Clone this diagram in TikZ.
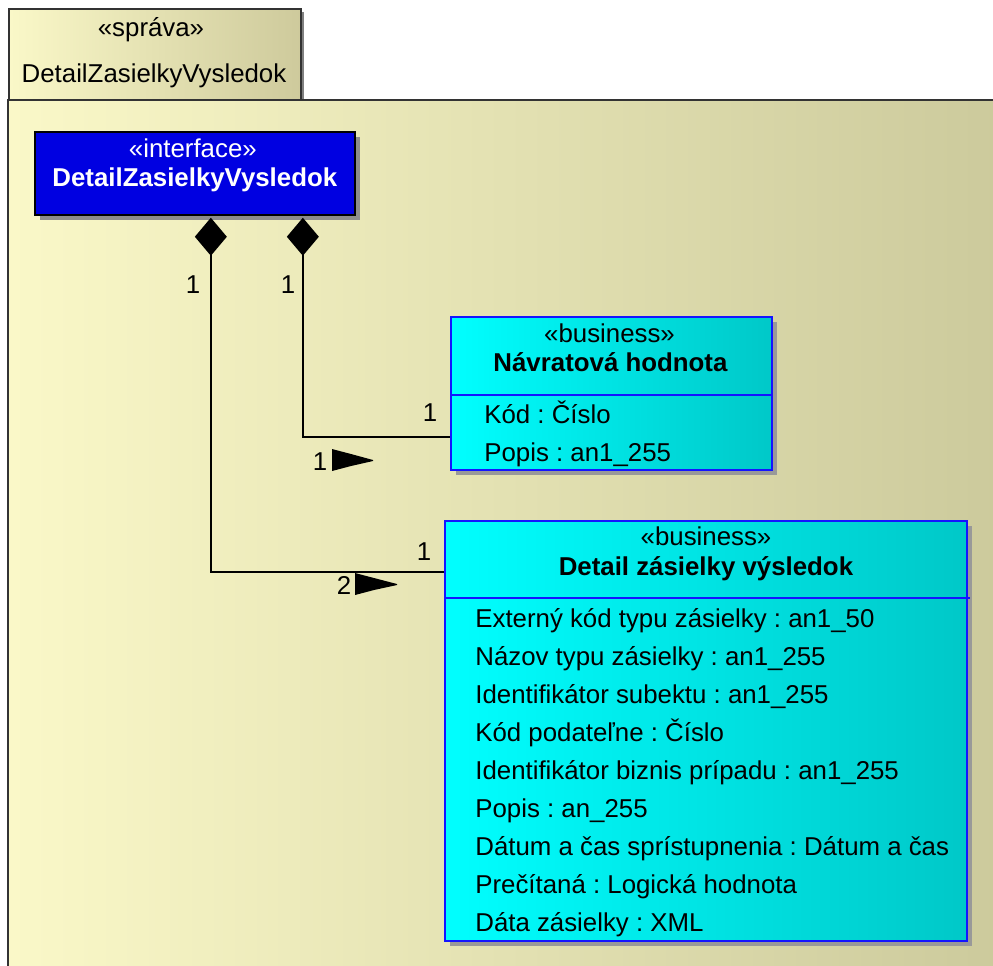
\documentclass[tikz,border=0pt]{standalone}
\usepackage{fontspec}
\setmainfont{Liberation Sans}
\usetikzlibrary{arrows.meta, positioning, calc, shadows}
\frenchspacing
\definecolor{pkgleft}{RGB}{250,248,200}
\definecolor{pkgright}{RGB}{204,202,156}
\definecolor{tabright}{RGB}{206,202,156}
\definecolor{cyanleft}{RGB}{0,255,255}
\definecolor{cyanright}{RGB}{0,200,200}
\definecolor{ifaceblue}{RGB}{0,0,225}
\definecolor{edgeblue}{RGB}{20,20,255}

\begin{document}
\begin{tikzpicture}[
    x=0.02cm, y=-0.02cm,
    font=\fontsize{14.7}{17}\selectfont,
    pkgtab/.style={draw=black!80, line width=1.2pt, left color=pkgleft, right color=tabright, anchor=north west, inner sep=0, minimum width=5.84cm, minimum height=1.84cm, drop shadow={shadow xshift=0.06cm, shadow yshift=-0.06cm, fill=black!50, opacity=1}},
    pkgbody/.style={left color=pkgleft, right color=pkgright, anchor=north west, inner sep=0, minimum width=19.84cm, minimum height=17.5cm},
    pkgline/.style={draw=black!80, line width=1.2pt},
    iface/.style={draw=black, line width=1pt, fill=ifaceblue, anchor=north west, inner sep=0, minimum width=6.4cm, minimum height=1.66cm, drop shadow={shadow xshift=0.1cm, shadow yshift=-0.1cm, fill=black!45, opacity=1}},
    cls/.style={draw=edgeblue, line width=1.2pt, left color=cyanleft, right color=cyanright, anchor=north west, inner sep=0, drop shadow={shadow xshift=0.1cm, shadow yshift=-0.1cm, fill=black!40, opacity=1}},
    divider/.style={draw=edgeblue, line width=1.2pt},
    lbl/.style={inner sep=0, anchor=base},
    attr/.style={inner sep=0, anchor=base west},
    mult/.style={inner sep=0},
    comp/.style={{Diamond[length=0.76cm, width=0.64cm]}-, line width=1.1pt},
    navtip/.style={fill=black},
]

% --- page and package frame ---
\path[use as bounding box] (0,0) rectangle (993,965);
\clip (0,0) rectangle (993,965);
\node[pkgtab] (pkgTab) at (8,8) {};
\node[lbl] (pkgStereo) at (151,36) {«správa»};
\node[lbl] (pkgName) at (154,82) {DetailZasielkyVysledok};
\node[pkgbody] (pkgBody) at (8,100) {};
\draw[pkgline] (pkgBody.south west) -- (pkgBody.north west) -- (pkgBody.north east);

% --- interface ---
\node[iface] (iface) at (34,131) {};
\node[lbl, white] (ifaceStereo) at ($(iface.north)+(-2,26)$) {«interface»};
\node[lbl, white] (ifaceName) at ($(iface.north)+(0,55)$) {\textbf{DetailZasielkyVysledok}};

% --- class: Navratova hodnota ---
\node[cls, minimum width=6.42cm, minimum height=3.06cm] (navrat) at (450,316) {};
\node[lbl] (navratStereo) at ($(navrat.north)+(-2,26)$) {«business»};
\node[lbl] (navratName) at ($(navrat.north)+(-1,55)$) {\textbf{Návratová hodnota}};
\draw[divider] ($(navrat.north west)+(0,79)$) -- ($(navrat.north east)+(0,79)$);
\node[attr] (navrat-1) at ($(navrat.north west)+(34,107)$) {Kód : Číslo};
\node[attr] (navrat-2) at ($(navrat.north west)+(34,145)$) {Popis : an1\_255};

% --- class: Detail zasielky vysledok ---
\node[cls, minimum width=10.44cm, minimum height=8.4cm] (detail) at (444,520) {};
\node[lbl] (detailStereo) at ($(detail.north)+(0,25)$) {«business»};
\node[lbl] (detailName) at ($(detail.north)+(0,55)$) {\textbf{Detail zásielky výsledok}};
\draw[divider] ($(detail.north west)+(0,78)$) -- ($(detail.north east)+(2,78)$);
\foreach \txt [count=\i] in {Externý kód typu zásielky : an1\_50, Názov typu zásielky : an1\_255,
    Identifikátor subektu : an1\_255, Kód podateľne : Číslo, Identifikátor biznis prípadu : an1\_255,
    Popis : an\_255, Dátum a čas sprístupnenia : Dátum a čas, Prečítaná : Logická hodnota,
    Dáta zásielky : XML}
  \node[attr] (detail-\i) at ($(detail.north west)+(31,{69+38*\i})$) {\txt};

% --- compositions ---
\draw[comp] ($(iface.south)+(108,2)$) |- ($(navrat.south west)+(0,-34)$);
\draw[comp] ($(iface.south)+(16,2)$) |- ($(detail.north west)+(0,52)$);

% navigability marks
\fill[navtip] (332,449) -- (351,454) -- (373,460) -- (373,461) -- (351,466) -- (332,471) -- cycle;
\fill[navtip] (355,573) -- (374,578) -- (397,584) -- (397,585) -- (374,590) -- (355,595) -- cycle;

% multiplicities
\node[mult] (multA1) at (193,285) {1};
\node[mult] (multB1) at (288,285) {1};
\node[mult] (multB2) at (430,413) {1};
\node[mult] (multB3) at (320,462) {1};
\node[mult] (multA2) at (424,552) {1};
\node[mult] (multA3) at (344,585) {2};

\end{tikzpicture}
\end{document}
